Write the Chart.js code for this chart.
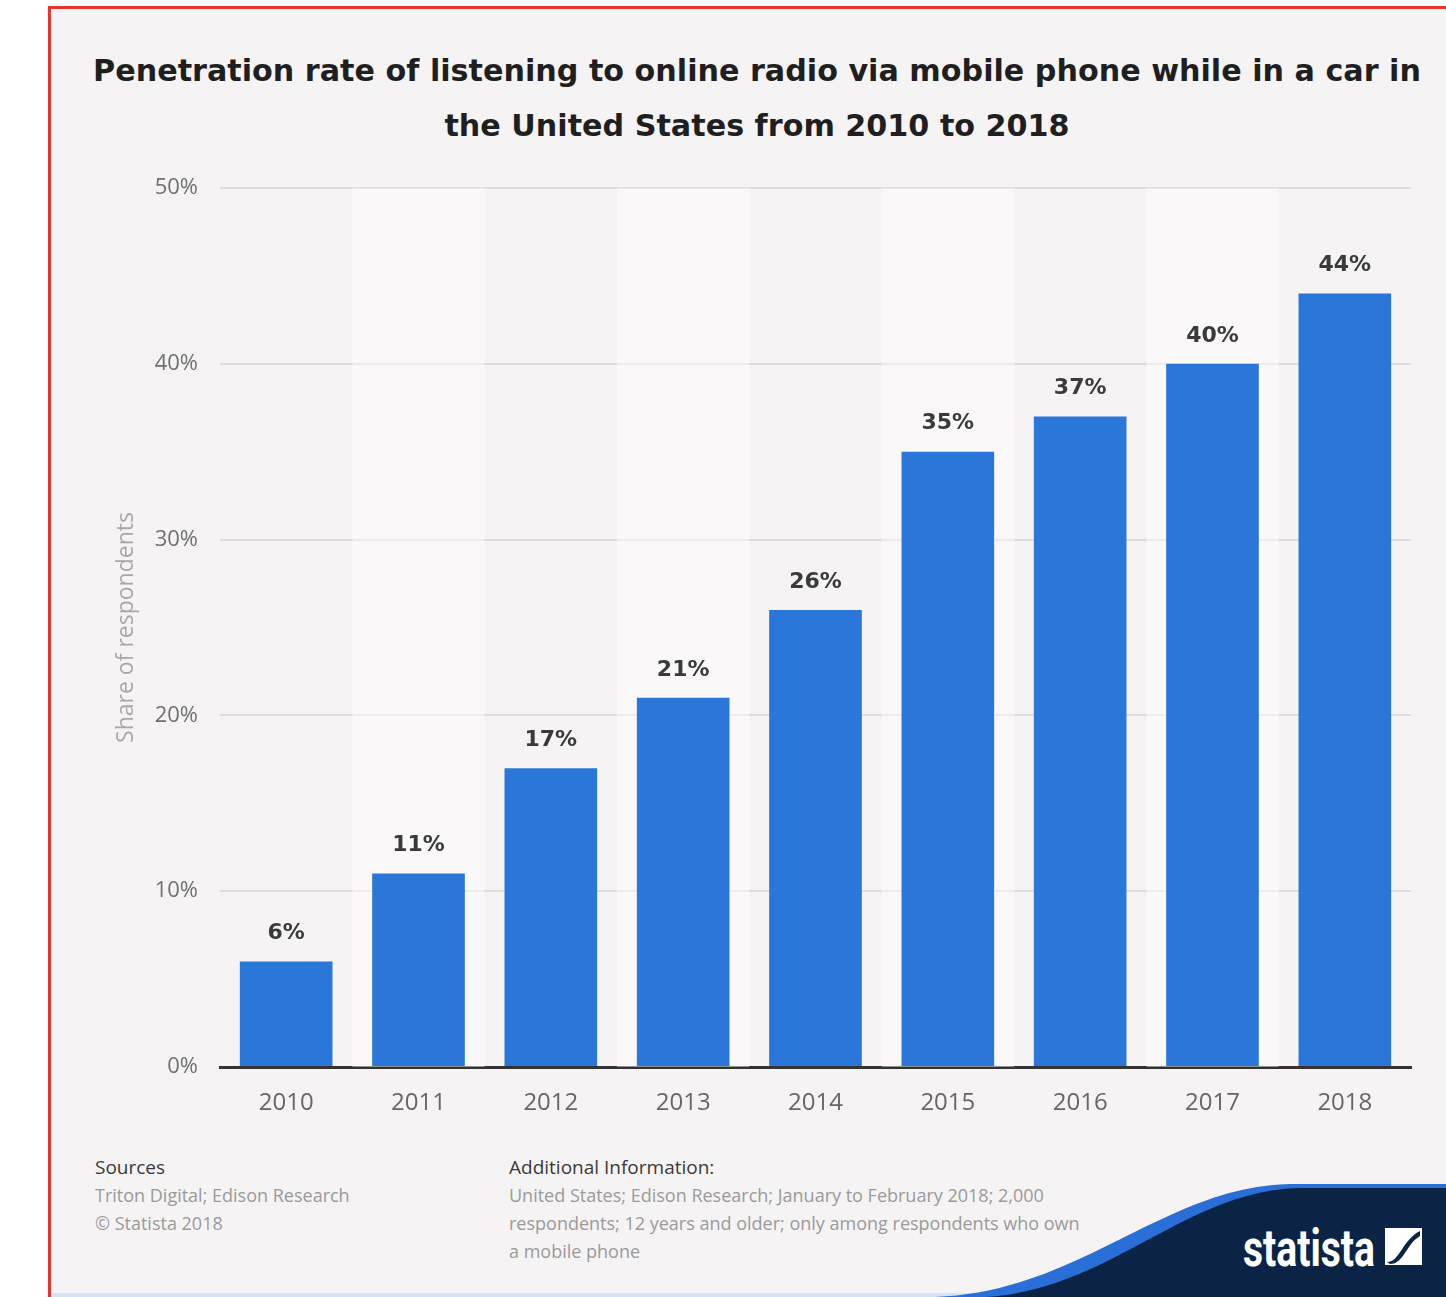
<!DOCTYPE html>
<html>
<head>
<meta charset="utf-8">
<script src="https://cdn.jsdelivr.net/npm/chart.js@4.4.1/dist/chart.umd.min.js"></script>
<style>
  html, body { margin: 0; padding: 0; background: #ffffff; }
  body { width: 1446px; height: 1297px; position: relative; overflow: hidden; font-family: "Open Sans", "Noto Sans", sans-serif; }
  #frame { position: absolute; left: 48px; top: 6px; width: 1398px; height: 1291px; background: #f6f3f4;
           border-left: 3px solid #e8342b; border-top: 3px solid #e8342b; box-sizing: border-box; }
  #baseline { position: absolute; left: 51px; top: 1293px; width: 1395px; height: 4px; background: #cfe4f6; }
  #chartBox { position: absolute; left: 0; top: 0; width: 1446px; height: 1297px; }
  #title { position: absolute; left: -43px; top: 43px; width: 1600px; text-align: center; white-space: nowrap;
           font-family: "DejaVu Sans", sans-serif; font-weight: bold; font-size: 30.2px; line-height: 55px; color: #1f1f1f; }
  .foot { position: absolute; font-size: 18px; line-height: 28px; color: #9a9a9a; }
  .foot b { font-weight: normal; color: #3a3a3a; font-size: 19px; }
  #logo { position: absolute; left: 0; top: 0; }
</style>
</head>
<body>
<div id="frame"></div>
<div id="baseline"></div>
<div id="title"></div>
<svg id="logo" width="1446" height="1297" viewBox="0 0 1446 1297">
  <path d="M 935 1297 C 1080 1292, 1165 1186, 1290 1184 L 1446 1184 L 1446 1297 Z" fill="#2a6fd8"/>
  <path d="M 985 1297 C 1110 1290, 1185 1190, 1300 1188 L 1446 1188 L 1446 1297 Z" fill="#0b2445"/>
  <text x="1243" y="1266" fill="#ffffff" font-family="Liberation Sans Narrow, Roboto, sans-serif" font-weight="bold" font-size="52" textLength="132" lengthAdjust="spacingAndGlyphs">statista</text>
  <rect x="1385" y="1228" width="37" height="37" fill="#ffffff"/>
  <path d="M 1387 1262 C 1400 1262, 1402 1240, 1420 1231 L 1420 1236 C 1406 1244, 1404 1264, 1390 1264 Z" fill="#0b2445"/>
</svg>
<div class="foot" style="left:95px; top:1153px;"><b>Sources</b><br>Triton Digital; Edison Research<br>© Statista 2018</div>
<div class="foot" style="left:509px; top:1153px; width:600px;"><b>Additional Information:</b><br>United States; Edison Research; January to February 2018; 2,000<br>respondents; 12 years and older; only among respondents who own<br>a mobile phone</div>
<div id="chartBox"><canvas id="c" width="1446" height="1297"></canvas></div>
<script>
// Survey years and share of respondents (%)
const years = ["2010", "2011", "2012", "2013", "2014", "2015", "2016", "2017", "2018"];
const shares = [6, 11, 17, 21, 26, 35, 37, 40, 44];
const yTicks = [0, 10, 20, 30, 40, 50];
const titleLines = [
  "Penetration rate of listening to online radio via mobile phone while in a car in",
  "the United States from 2010 to 2018"
];
const yAxisTitle = "Share of respondents";

// Two-line heading above the plot
const titleEl = document.getElementById("title");
titleLines.forEach((line, i) => {
  if (i > 0) titleEl.appendChild(document.createElement("br"));
  titleEl.appendChild(document.createTextNode(line));
});

// Faint alternating column bands behind the bars
const bandPlugin = {
  id: "bands",
  beforeDatasetsDraw(chart) {
    const { ctx, chartArea, scales } = chart;
    const x = scales.x;
    ctx.save();
    years.forEach((y, i) => {
      if (i % 2 === 1) {
        const c = x.getPixelForValue(i);
        const half = (x.getPixelForValue(1) - x.getPixelForValue(0)) / 2;
        ctx.fillStyle = "rgba(255,255,255,0.45)";
        ctx.fillRect(c - half, chartArea.top, half * 2, chartArea.bottom - chartArea.top);
      }
    });
    ctx.restore();
  }
};

// Value labels above each bar
const valueLabels = {
  id: "valueLabels",
  afterDatasetsDraw(chart) {
    const { ctx } = chart;
    const meta = chart.getDatasetMeta(0);
    ctx.save();
    ctx.font = "bold 22px 'DejaVu Sans', sans-serif";
    ctx.fillStyle = "#3a3a3a";
    ctx.textAlign = "center";
    ctx.textBaseline = "middle";
    meta.data.forEach((bar, i) => {
      ctx.fillText(shares[i] + "%", bar.x, bar.y - 28);
    });
    ctx.restore();
  }
};

new Chart(document.getElementById("c"), {
  type: "bar",
  data: {
    labels: years,
    datasets: [{
      data: shares,
      backgroundColor: "#2a77d9",
      borderWidth: 0,
      categoryPercentage: 1.0,
      barPercentage: 0.70
    }]
  },
  options: {
    responsive: false,
    animation: false,
    devicePixelRatio: 1,
    layout: { padding: { top: 188, right: 35, left: 113, bottom: 170 } },
    plugins: {
      legend: { display: false },
      tooltip: { enabled: false },
      title: { display: false }
    },
    scales: {
      x: {
        grid: { display: false, drawTicks: false },
        border: { display: true, color: "#333333", width: 3 },
        ticks: { color: "#666666", font: { family: "'Open Sans', sans-serif", size: 24 }, padding: 22 },
        afterFit(scale) { scale.height = 60; }
      },
      y: {
        min: 0,
        max: 50,
        afterBuildTicks(scale) { scale.ticks = yTicks.map(v => ({ value: v })); },
        grid: { color: "#dedcdc", lineWidth: 2, drawTicks: false },
        border: { display: false },
        ticks: {
          color: "#707070",
          font: { family: "'Open Sans', sans-serif", size: 22 },
          padding: 22,
          callback: v => v + "%"
        },
        title: {
          display: true,
          text: yAxisTitle,
          color: "#a8a8a8",
          font: { family: "'Open Sans', sans-serif", size: 23 },
          padding: 0
        },
        afterFit(scale) { scale.width = 107; }
      }
    }
  },
  plugins: [bandPlugin, valueLabels]
});
</script>
</body>
</html>
